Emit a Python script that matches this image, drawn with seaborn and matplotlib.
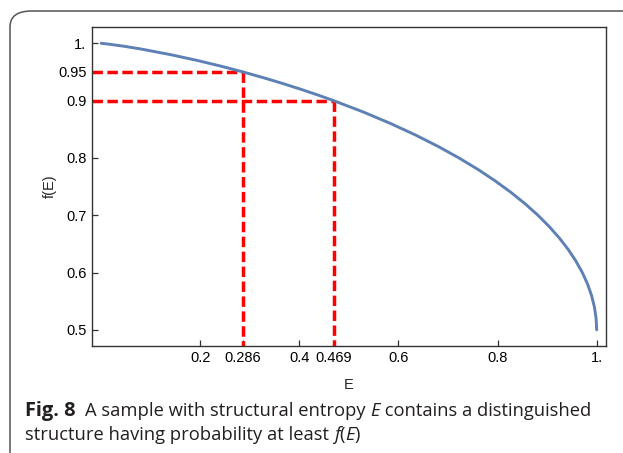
import matplotlib
matplotlib.use("Agg")
import matplotlib.pyplot as plt
from matplotlib.patches import FancyBboxPatch
import pandas as pd
import seaborn as sns

# curve: entropy E vs probability f(E)
entropia = [0.0, 0.0114, 0.0454, 0.0808, 0.1414, 0.1944, 0.2423, 0.2864,
            0.3274, 0.3659, 0.4022, 0.4365, 0.4690, 0.5294, 0.5842, 0.6343,
            0.6801, 0.7219, 0.7602, 0.7950, 0.8267, 0.8555, 0.8813, 0.9044,
            0.9248, 0.9427, 0.9580, 0.9710, 0.9815, 0.9896, 0.9954, 0.9988, 1.0]
prob = [1.0, 0.999, 0.995, 0.99, 0.98, 0.97, 0.96, 0.95,
        0.94, 0.93, 0.92, 0.91, 0.90, 0.88, 0.86, 0.84,
        0.82, 0.80, 0.78, 0.76, 0.74, 0.72, 0.70, 0.68,
        0.66, 0.64, 0.62, 0.60, 0.58, 0.56, 0.54, 0.52, 0.50]

# marked points
marca_E = [0.286, 0.469]
marca_f = [0.95, 0.90]

x_ticks = [0.2, 0.286, 0.4, 0.469, 0.6, 0.8, 1.0]
x_labels = ["0.2", "0.286", "0.4", "0.469", "0.6", "0.8", "1."]
y_ticks = [0.5, 0.6, 0.7, 0.8, 0.9, 0.95, 1.0]
y_labels = ["0.5", "0.6", "0.7", "0.8", "0.9", "0.95", "1."]

sns.set_theme(style="white")
plt.rcParams["font.family"] = ["Liberation Sans", "DejaVu Sans"]

W, H = 623, 453
fig = plt.figure(figsize=(W / 100, H / 100), dpi=100)
ax = fig.add_axes([92 / W, 1 - 345.5 / H, (606 - 92) / W, (345.5 - 27) / H])

xmin, xmax = -0.0186, 1.0188
ymin, ymax = 0.4726, 1.0285

df = pd.DataFrame({"E": entropia, "f": prob})
sns.lineplot(data=df, x="E", y="f", ax=ax, color="#5E81B5", linewidth=2.1,
             sort=False, zorder=3)

for e, f in zip(marca_E, marca_f):
    ax.plot([xmin, e], [f, f], color="#FF0000", linewidth=2.5,
            dashes=(3.0, 1.3), zorder=2)
    ax.plot([e, e], [f, ymin], color="#FF0000", linewidth=2.5,
            dashes=(3.0, 1.3), zorder=2)

ax.set_xlim(xmin, xmax)
ax.set_ylim(ymin, ymax)
ax.set_xticks(x_ticks)
ax.set_xticklabels(x_labels)
ax.set_yticks(y_ticks)
ax.set_yticklabels(y_labels)
ax.tick_params(direction="in", length=4, width=0.9, color="#333333",
               labelsize=10.5, labelcolor="black", pad=4,
               bottom=True, left=True)
for s in ax.spines.values():
    s.set_color("#333333")
    s.set_linewidth(1.0)
ax.set_xlabel("E", fontsize=10.5, labelpad=9)
ax.set_ylabel("f(E)", fontsize=10.5, labelpad=1)
ax.grid(False)

# rounded frame around the figure (open at right/bottom)
frame = FancyBboxPatch((10 / W, -0.2), 1.2, 1 - 11 / H + 0.2,
                       boxstyle="round,pad=0,rounding_size=0.035",
                       transform=fig.transFigure, fill=False,
                       edgecolor="#555555", linewidth=1.1, clip_on=False)
fig.patches.append(frame)

# caption
cap_font = ["Open Sans", "DejaVu Sans"]
cap_size = 13.2
renderer = fig.canvas.get_renderer()


def escreve(partes, x0, y0, tam=cap_size):
    x = x0
    for txt, peso, estilo in partes:
        t = fig.text(x / W, 1 - y0 / H, txt, fontsize=tam, family=cap_font,
                     weight=peso, style=estilo, color="#231f20", va="baseline")
        bb = t.get_window_extent(renderer=renderer)
        x += bb.width


escreve([("Fig. 8", "bold", "normal")], 25, 416, tam=14.4)
escreve([("A sample with structural entropy ", "normal", "normal"),
         ("E", "normal", "italic"),
         (" contains a distinguished", "normal", "normal")], 85, 416)
escreve([("structure having probability at least ", "normal", "normal"),
         ("f", "normal", "italic"),
         ("(", "normal", "normal"),
         ("E", "normal", "italic"),
         (")", "normal", "normal")], 25, 440)

fig.savefig("out.png", dpi=100)
